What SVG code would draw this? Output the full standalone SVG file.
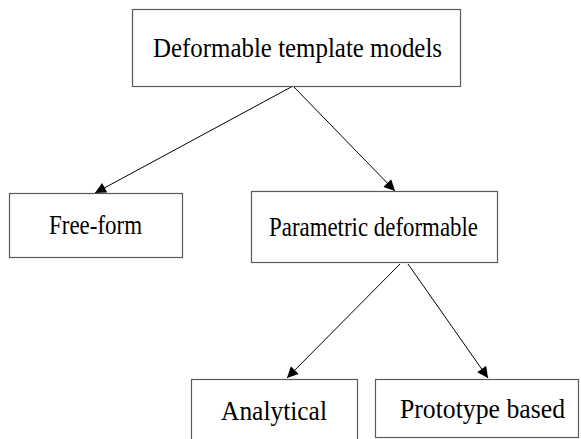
<svg xmlns="http://www.w3.org/2000/svg" width="581" height="439" viewBox="0 0 581 439">
<style>
.box{fill:#fff;stroke:#5a5a5a;stroke-width:1.2}
.lbl{font-family:"Liberation Serif","Times New Roman",serif;font-size:27px;fill:#000;text-anchor:middle}
.edge{stroke:#000;stroke-width:1;fill:none;marker-end:url(#ah)}
</style>
<defs>
<marker id="ah" viewBox="0 0 10 10" refX="10" refY="5" markerWidth="15" markerHeight="11" markerUnits="userSpaceOnUse" orient="auto">
<path d="M0,0 L10,5 L0,10 z" fill="#000"/>
</marker>
</defs>
<rect width="581" height="439" fill="#fff"/>
<g id="connectors">
<path class="edge" d="M293,86 L95,193"/>
<path class="edge" d="M293,86 L395,191"/>
<path class="edge" d="M400,264 L287,378"/>
<path class="edge" d="M408,264 L488,378"/>
</g>
<g id="n-root">
<rect class="box" x="132.5" y="9.5" width="328" height="77"/>
<text class="lbl" x="297.5" y="57" textLength="289" lengthAdjust="spacingAndGlyphs">Deformable template models</text>
</g>
<g id="n-freeform">
<rect class="box" x="9.5" y="193.5" width="173" height="64"/>
<text class="lbl" x="95.5" y="234" textLength="93" lengthAdjust="spacingAndGlyphs">Free-form</text>
</g>
<g id="n-parametric">
<rect class="box" x="251.5" y="191.5" width="246" height="71"/>
<text class="lbl" x="373.5" y="236" textLength="209" lengthAdjust="spacingAndGlyphs">Parametric deformable</text>
</g>
<g id="n-analytical">
<rect class="box" x="191.5" y="379.5" width="166" height="70"/>
<text class="lbl" x="274" y="420" textLength="106" lengthAdjust="spacingAndGlyphs">Analytical</text>
</g>
<g id="n-prototype">
<rect class="box" x="375.5" y="379.5" width="203" height="58"/>
<text class="lbl" x="482.5" y="418" textLength="165" lengthAdjust="spacingAndGlyphs">Prototype based</text>
</g>
</svg>
